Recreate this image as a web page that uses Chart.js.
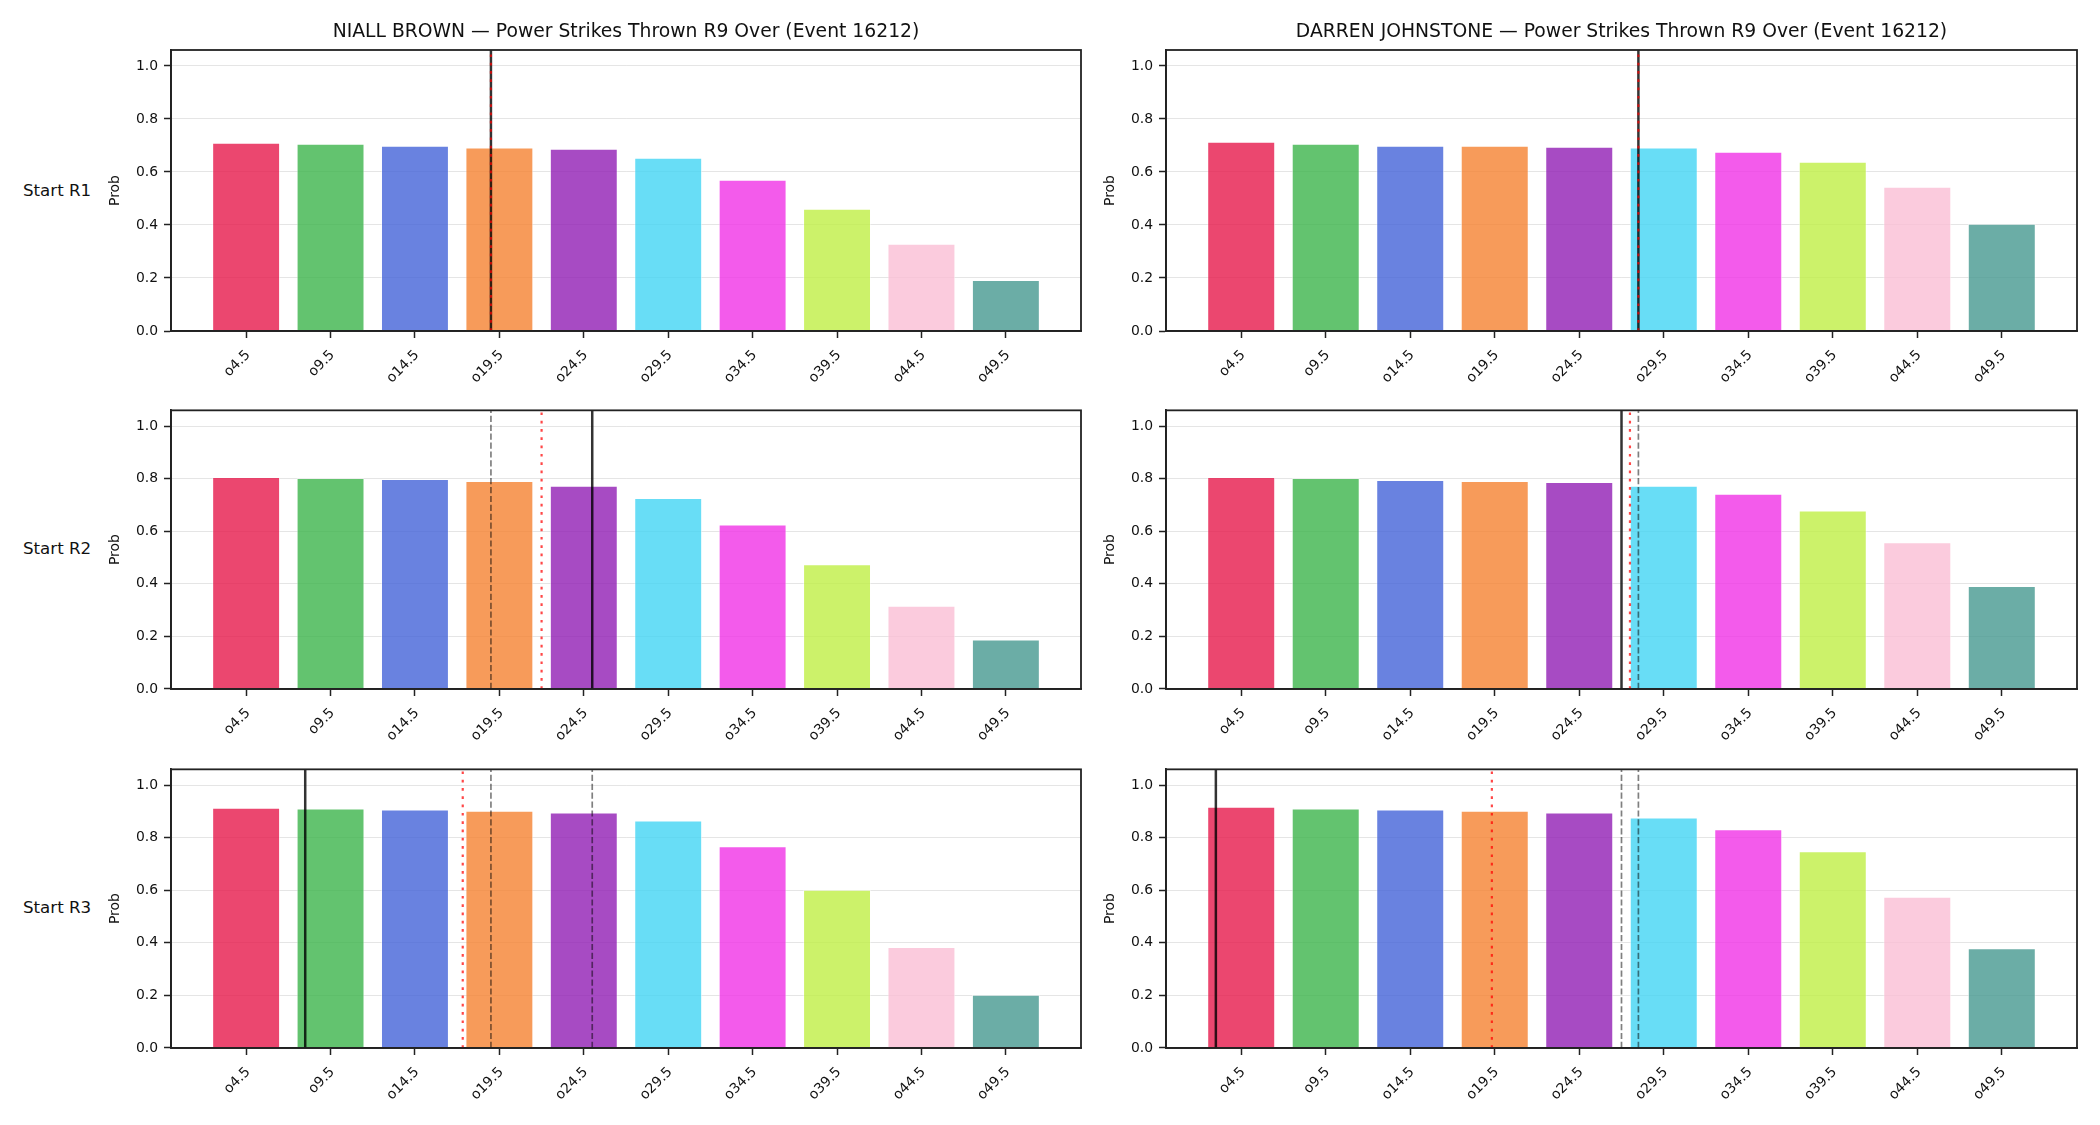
<!DOCTYPE html>
<html><head><meta charset="utf-8">
<script src="https://cdn.jsdelivr.net/npm/chart.js@4.4.1/dist/chart.umd.min.js"></script>
<style>
html,body{margin:0;padding:0;background:#fff;}
#wrap{position:relative;width:2100px;height:1125px;overflow:hidden;background:#fff;}
#wrap canvas{position:absolute;}
.rowlab{position:absolute;font-family:'DejaVu Sans';font-size:16.67px;color:#111;white-space:nowrap;line-height:1;transform:translateY(-50%);}
</style></head><body><div id="wrap"></div>
<script>
// ---- data ----
const categories = ['o4.5','o9.5','o14.5','o19.5','o24.5','o29.5','o34.5','o39.5','o44.5','o49.5'];
const thresholds = [4.5, 9.5, 14.5, 19.5, 24.5, 29.5, 34.5, 39.5, 44.5, 49.5];
const yTicks = [0, 0.2, 0.4, 0.6, 0.8, 1.0];
const fighters = ['NIALL BROWN', 'DARREN JOHNSTONE'];
const titleSuffix = ' — Power Strikes Thrown R9 Over (Event 16212)';
const rowLabels = ['Start R1', 'Start R2', 'Start R3'];

const niallR1 = [0.709, 0.706, 0.698, 0.691, 0.687, 0.653, 0.570, 0.460, 0.328, 0.192];
const niallR2 = [0.806, 0.802, 0.798, 0.790, 0.772, 0.726, 0.625, 0.474, 0.316, 0.188];
const niallR3 = [0.913, 0.910, 0.906, 0.902, 0.895, 0.865, 0.767, 0.601, 0.383, 0.202];
const darrenR1 = [0.713, 0.706, 0.698, 0.698, 0.694, 0.691, 0.675, 0.638, 0.543, 0.404];
const darrenR2 = [0.806, 0.802, 0.794, 0.790, 0.787, 0.772, 0.742, 0.678, 0.557, 0.391];
const darrenR3 = [0.917, 0.910, 0.906, 0.902, 0.895, 0.876, 0.831, 0.748, 0.575, 0.379];

// vertical reference lines (in strike units)
const niallActual = [19, 25, 8];          // solid
const niallPrior  = [[], [19], [19, 25]]; // dashed
const niallAvg    = [19, 22, 17.33];      // dotted red
const darrenActual = [28, 27, 3];
const darrenPrior  = [[], [28], [28, 27]];
const darrenAvg    = [28, 27.5, 19.33];

const barColors = ['rgba(230,25,75,0.8)','rgba(60,180,75,0.8)','rgba(67,99,216,0.8)','rgba(245,130,49,0.8)',
  'rgba(145,30,180,0.8)','rgba(66,212,244,0.8)','rgba(240,50,230,0.8)','rgba(191,239,69,0.8)',
  'rgba(250,190,212,0.8)','rgba(70,153,144,0.8)'];

// ---- layout ----
const FONT = "'DejaVu Sans'";
const colL = [171, 1166], colW = [910, 911];
const rowT = [50, 408, 767], rowH = 281;
const Y_AX = 75, X_AX = 80, RPAD = 12;
const xMin = 0.05, xMax = 53.95, yMax = 1.06;

const panels = [
  [niallR1, niallActual, niallPrior, niallAvg, 0, 0],
  [darrenR1, darrenActual, darrenPrior, darrenAvg, 1, 0],
  [niallR2, niallActual, niallPrior, niallAvg, 0, 1],
  [darrenR2, darrenActual, darrenPrior, darrenAvg, 1, 1],
  [niallR3, niallActual, niallPrior, niallAvg, 0, 2],
  [darrenR3, darrenActual, darrenPrior, darrenAvg, 1, 2]
];

const boxPlugin = {
  id: 'box',
  afterDraw(chart) {
    const {ctx, chartArea: a} = chart;
    ctx.save();
    ctx.strokeStyle = '#222';
    ctx.lineWidth = 1.8;
    ctx.strokeRect(a.left, a.top, a.right - a.left, a.bottom - a.top);
    ctx.restore();
  }
};

function vline(x, color, width, dash, order) {
  return {
    type: 'line', data: [{x: x, y: 0}, {x: x, y: yMax}],
    borderColor: color, borderWidth: width, borderDash: dash, borderCapStyle: 'butt',
    pointRadius: 0, pointHoverRadius: 0, fill: false, tension: 0, order: order
  };
}

const wrap = document.getElementById('wrap');

rowLabels.forEach((t, r) => {
  const d = document.createElement('div');
  d.className = 'rowlab';
  d.textContent = t;
  d.style.left = '23px';
  d.style.top = (rowT[r] + rowH / 2) + 'px';
  wrap.appendChild(d);
});

panels.forEach(([vals, actual, prior, avg, c, r]) => {
  const padTop = r === 0 ? 50 : 12;
  const cv = document.createElement('canvas');
  const W = Y_AX + colW[c] + RPAD, H = padTop + rowH + X_AX;
  cv.width = W; cv.height = H;
  cv.style.left = (colL[c] - Y_AX) + 'px';
  cv.style.top = (rowT[r] - padTop) + 'px';
  cv.style.width = W + 'px'; cv.style.height = H + 'px';
  wrap.appendChild(cv);

  const datasets = [{
    type: 'bar',
    data: thresholds.map((t, i) => ({x: t, y: vals[i]})),
    backgroundColor: barColors,
    borderColor: 'rgba(255,255,255,0.6)',
    borderWidth: 0.8,
    categoryPercentage: 0.8,
    barPercentage: 1.0,
    order: 10
  }];
  datasets.push(vline(actual[r], 'rgba(0,0,0,0.8)', 2.5, [], 3));
  prior[r].forEach(p => datasets.push(vline(p, 'rgba(0,0,0,0.5)', 1.7, [6.2, 2.7], 2)));
  datasets.push(vline(avg[r], 'rgba(255,0,0,0.72)', 2.2, [2.7, 5.6], 1));

  new Chart(cv, {
    type: 'bar',
    data: {datasets},
    options: {
      responsive: false, animation: false, devicePixelRatio: 1,
      layout: {padding: {left: 0, right: RPAD, top: r === 0 ? 0 : padTop, bottom: 0}},
      plugins: {
        legend: {display: false}, tooltip: {enabled: false},
        title: {
          display: r === 0, text: fighters[c] + titleSuffix, fullSize: false,
          color: '#111', font: {family: FONT, size: 18.75, weight: 'normal', lineHeight: 1.2},
          padding: {top: 20.5, bottom: 7}
        }
      },
      scales: {
        x: {
          type: 'linear', min: xMin, max: xMax, offset: false,
          afterBuildTicks: s => { s.ticks = thresholds.map(v => ({value: v})); },
          afterFit: s => { s.height = X_AX; },
          ticks: {autoSkip: false, minRotation: 45, maxRotation: 45, padding: 9, labelOffset: 2,
            callback: (v, i) => categories[i], color: '#111', font: {family: FONT, size: 13.9}},
          grid: {drawOnChartArea: false, drawTicks: true, tickLength: 7, tickColor: '#222', tickWidth: 1.5, offset: false},
          border: {display: true, color: '#222', width: 1.8}
        },
        y: {
          min: 0, max: yMax,
          afterBuildTicks: s => { s.ticks = yTicks.map(v => ({value: v})); },
          afterFit: s => { s.width = Y_AX; },
          ticks: {padding: 6, callback: v => v.toFixed(1), color: '#111', font: {family: FONT, size: 13.9}},
          title: {display: true, text: 'Prob', color: '#111', font: {family: FONT, size: 13.9}, padding: {top: 11, bottom: 0}},
          grid: {color: 'rgba(0,0,0,0.1)', lineWidth: 1, drawTicks: true, tickLength: 7, tickColor: '#222', tickWidth: 1.5},
          border: {display: true, color: '#222', width: 1.8}
        }
      }
    },
    plugins: [boxPlugin]
  });
});
</script></body></html>
